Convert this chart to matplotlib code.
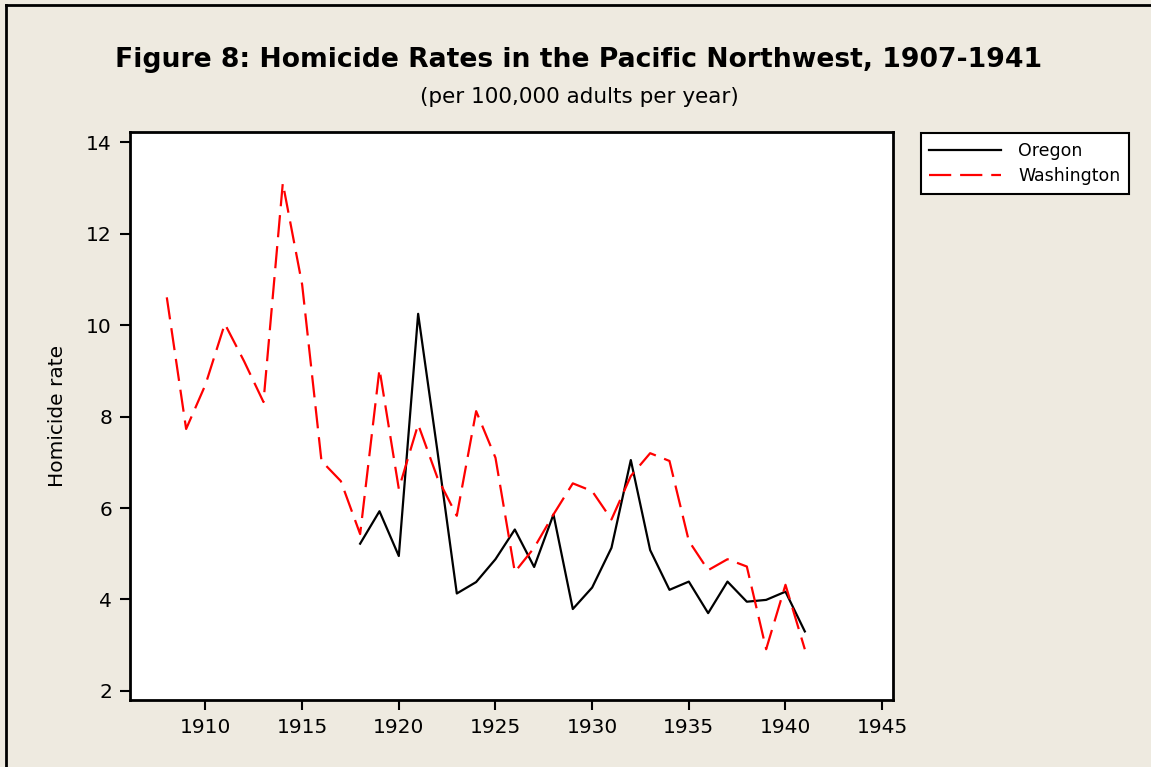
import matplotlib.pyplot as plt
from matplotlib.lines import Line2D

# Data
years_or = list(range(1918, 1942))
oregon = [5.22, 5.93, 4.95, 10.25, 7.24, 4.13, 4.38, 4.88, 5.53, 4.71, 5.86, 3.79,
          4.26, 5.13, 7.05, 5.08, 4.21, 4.39, 3.70, 4.39, 3.95, 3.99, 4.17, 3.30]
years_wa = list(range(1908, 1942))
washington = [10.61, 7.73, 8.70, 10.03, 9.21, 8.32, 13.11, 10.89, 7.03, 6.59, 5.43, 9.04,
              6.42, 7.83, 6.66, 5.83, 8.12, 7.10, 4.60, 5.13, 5.86, 6.54, 6.37, 5.75,
              6.70, 7.20, 7.03, 5.28, 4.64, 4.88, 4.72, 2.91, 4.32, 2.91]
xticks = [1910, 1915, 1920, 1925, 1930, 1935, 1940, 1945]
yticks = [2, 4, 6, 8, 10, 12, 14]

bg = '#eeeae0'
fig = plt.figure(figsize=(11.51, 7.67), dpi=100, facecolor=bg)
ax = fig.add_axes([0.113, 0.0874, 0.663, 0.74])

ax.plot(years_or, oregon, color='black', lw=1.6, label='Oregon')
ax.plot(years_wa, washington, color='red', lw=1.6, dashes=(10, 4), label='Washington')

ax.set_xlim(1906.1, 1945.57)
ax.set_ylim(1.80, 14.22)
ax.set_xticks(xticks)
ax.set_yticks(yticks)
ax.tick_params(direction='out', length=7, width=1.5, labelsize=14.5, pad=6)
for s in ax.spines.values():
    s.set_linewidth(2)
ax.set_ylabel('Homicide rate', fontsize=14.5, labelpad=14)

fig.text(0.503, 0.922, 'Figure 8: Homicide Rates in the Pacific Northwest, 1907-1941',
         ha='center', va='center', fontsize=19.2, fontweight='bold')
fig.text(0.503, 0.873, '(per 100,000 adults per year)', ha='center', va='center', fontsize=15.5)

leg = fig.legend(loc='upper left', bbox_to_anchor=(0.8, 0.8266), borderaxespad=0, fontsize=12.5,
                 frameon=True, fancybox=False, edgecolor='black', framealpha=1,
                 borderpad=0.5, handlelength=4.1, labelspacing=0.45, handletextpad=1.0)
leg.get_frame().set_linewidth(1.5)

# left and top border of the frame
fig.add_artist(Line2D([0.005, 0.005], [0, 0.994], color='black', lw=2, transform=fig.transFigure))
fig.add_artist(Line2D([0.005, 1], [0.994, 0.994], color='black', lw=2, transform=fig.transFigure))

fig.savefig('out.png', dpi=100, facecolor=bg)
